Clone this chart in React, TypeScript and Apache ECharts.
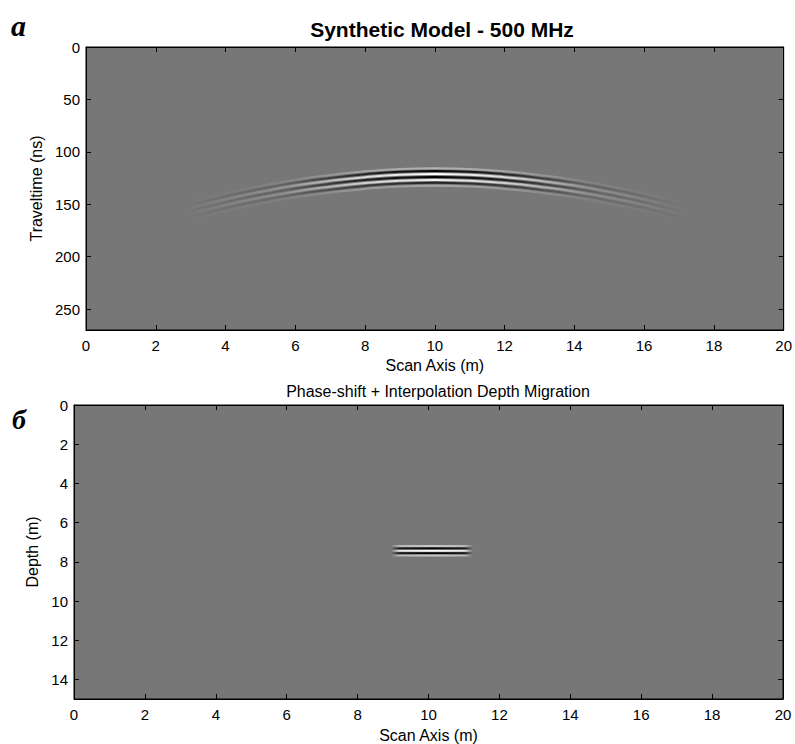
import React, { useEffect, useRef } from "react";
import * as echarts from "echarts";

// ---- data ----
const scanTicks = [0, 2, 4, 6, 8, 10, 12, 14, 16, 18, 20];
const timeTicks = [0, 50, 100, 150, 200, 250];
const depthTicks = [0, 2, 4, 6, 8, 10, 12, 14];

// Diffraction hyperbola (centre of wavelet), scan position (m) vs traveltime (ns)
const hyperScan = [2.8, 4, 5, 6, 7, 8, 9, 10, 11, 12, 13, 14, 15, 16, 17.2];
const hyperTime = [158, 148, 141, 135, 130.5, 127, 124.7, 124, 124.7, 127, 130.5, 135, 141, 148, 158];
// wavelet lobes: time offset (ns), polarity (1 white / -1 black), amplitude
const lobeOffsetNs = [-8.4, -5.6, -2.8, 0, 2.8, 5.6, 8.4];
const lobePolarity = [1, -1, 1, -1, 1, -1, 1];
const lobeAmplitude = [0.45, 0.95, 1, 1, 0.9, 0.7, 0.35];

// Migrated reflector: scan extent (m) and depth (m)
const reflScan = [8.95, 10.1, 11.25];
const reflDepth = [7.44, 7.44, 7.44];
const reflOffsetM = [-0.24, -0.12, 0, 0.12, 0.24];
const reflPolarity = [1, -1, 1, -1, 1];
const reflAmplitude = [0.6, 1, 1, 1, 0.6];

const FONT = "'Liberation Sans', Arial, sans-serif";

function grad(pol: number, a: number, stops: number[][], gx?: number[]) {
  const c = pol > 0 ? "255,255,255" : "0,0,0";
  const g: any = {
    type: "linear",
    x: gx ? gx[0] : 0,
    y: 0,
    x2: gx ? gx[1] : 1,
    y2: 0,
    colorStops: stops.map(([o, f]) => ({ offset: o, color: `rgba(${c},${(a * f).toFixed(3)})` })),
  };
  if (gx) g.global = true;
  return g;
}

export default function App() {
  const ref = useRef<HTMLDivElement>(null);
  useEffect(() => {
    document.body.style.margin = "0";
    const chart = echarts.init(ref.current!, null, { renderer: "svg" });
    const tickLabel = { color: "#000", fontSize: 15, fontFamily: FONT };
    const axisLine = { show: true, onZero: false, lineStyle: { color: "#000", width: 1 } };
    const tick = { show: true, inside: true, length: 5, lineStyle: { color: "#000" } };
    const nameStyle = { color: "#000", fontSize: 16, fontFamily: FONT };

    const hyperSeries = lobeOffsetNs.map((off, i) => ({
      type: "line",
      xAxisIndex: 0,
      yAxisIndex: 0,
      data: hyperScan.map((x, j) => [x, hyperTime[j] + off]),
      smooth: true,
      symbol: "none",
      silent: true,
      lineStyle: {
        width: 2,
        color: grad(lobePolarity[i], lobeAmplitude[i], [
          [0, 0], [0.2, 0.2], [0.35, 0.7], [0.5, 1], [0.65, 0.7], [0.8, 0.2], [1, 0],
        ]),
      },
    }));
    const makeRefl = (gx?: number[]) =>
      reflOffsetM.map((off, i) => ({
        type: "line",
        xAxisIndex: 2,
        yAxisIndex: 2,
        data: reflScan.map((x, j) => [x, reflDepth[j] + off]),
        symbol: "none",
        silent: true,
        lineStyle: {
          width: 2,
          color: gx
            ? grad(reflPolarity[i], reflAmplitude[i], [[0, 0], [0.1, 0.8], [0.5, 1], [0.9, 0.8], [1, 0]], gx)
            : "rgba(0,0,0,0)",
        },
      }));

    const xBase = (grid: number, pos: string, labels: boolean, name?: string) => ({
      type: "value",
      gridIndex: grid,
      position: pos,
      min: scanTicks[0],
      max: scanTicks[scanTicks.length - 1],
      interval: 2,
      axisLine,
      axisTick: tick,
      splitLine: { show: false },
      axisLabel: { show: labels, margin: 8, ...tickLabel },
      name: name,
      nameLocation: "middle",
      nameGap: 27,
      nameTextStyle: nameStyle,
    });
    const yBase = (grid: number, pos: string, labels: boolean, ticks: number[], max: number, interval: number, name?: string, gap?: number) => ({
      type: "value",
      gridIndex: grid,
      position: pos,
      inverse: true,
      min: 0,
      max: max,
      interval: interval,
      axisLine,
      axisTick: tick,
      splitLine: { show: false },
      axisLabel: {
        show: labels,
        margin: 6,
        ...tickLabel,
        formatter: (v: number) => (ticks.indexOf(v) >= 0 ? String(v) : ""),
      },
      name: name,
      nameLocation: "middle",
      nameGap: gap,
      nameTextStyle: nameStyle,
    });

    const baseOption = {
      animation: false,
      backgroundColor: "#fff",
      title: [
        {
          text: "Synthetic Model - 500 MHz",
          left: 437,
          top: 14,
          textAlign: "center",
          textStyle: { fontSize: 21, fontWeight: "bold", fontFamily: FONT, color: "#000" },
        },
        {
          text: "Phase-shift + Interpolation Depth Migration",
          left: 433,
          top: 378,
          textAlign: "center",
          textStyle: { fontSize: 16, fontWeight: "normal", fontFamily: FONT, color: "#000" },
        },
      ],
      graphic: [
        {
          type: "text",
          left: 11,
          top: 10,
          style: { text: "а", font: "italic bold 30px 'Liberation Serif', 'DejaVu Serif', serif", fill: "#000" },
        },
        {
          type: "text",
          left: 12,
          top: 405,
          style: { text: "б", font: "italic bold 28px 'Liberation Serif', 'DejaVu Serif', serif", fill: "#000" },
        },
      ],
      grid: [
        { left: 86, top: 47, width: 703, height: 283, show: true, backgroundColor: "#777777", borderColor: "#000", borderWidth: 1 },
        { left: 74, top: 405, width: 709, height: 294, show: true, backgroundColor: "#777777", borderColor: "#000", borderWidth: 1 },
      ],
      xAxis: [
        xBase(0, "bottom", true, "Scan Axis (m)"),
        xBase(0, "top", false),
        { ...xBase(1, "bottom", true, "Scan Axis (m)"), nameGap: 28 },
        xBase(1, "top", false),
      ],
      yAxis: [
        yBase(0, "left", true, timeTicks, 270, 50, "Traveltime (ns)", 41),
        yBase(0, "right", false, timeTicks, 270, 50),
        yBase(1, "left", true, depthTicks, 15, 2, "Depth (m)", 33),
        yBase(1, "right", false, depthTicks, 15, 2),
      ],
    };
    chart.setOption({ ...baseOption, series: [...hyperSeries, ...makeRefl()] });
    const p0 = chart.convertToPixel({ xAxisIndex: 2, yAxisIndex: 2 } as any, [reflScan[0], reflDepth[0]]) as number[];
    const p1 = chart.convertToPixel(
      { xAxisIndex: 2, yAxisIndex: 2 } as any,
      [reflScan[reflScan.length - 1], reflDepth[reflDepth.length - 1]]
    ) as number[];
    chart.setOption({ ...baseOption, series: [...hyperSeries, ...makeRefl([p0[0], p1[0]])] });
    return () => chart.dispose();
  }, []);
  return <div ref={ref} style={{ width: 795, height: 744 }} />;
}
